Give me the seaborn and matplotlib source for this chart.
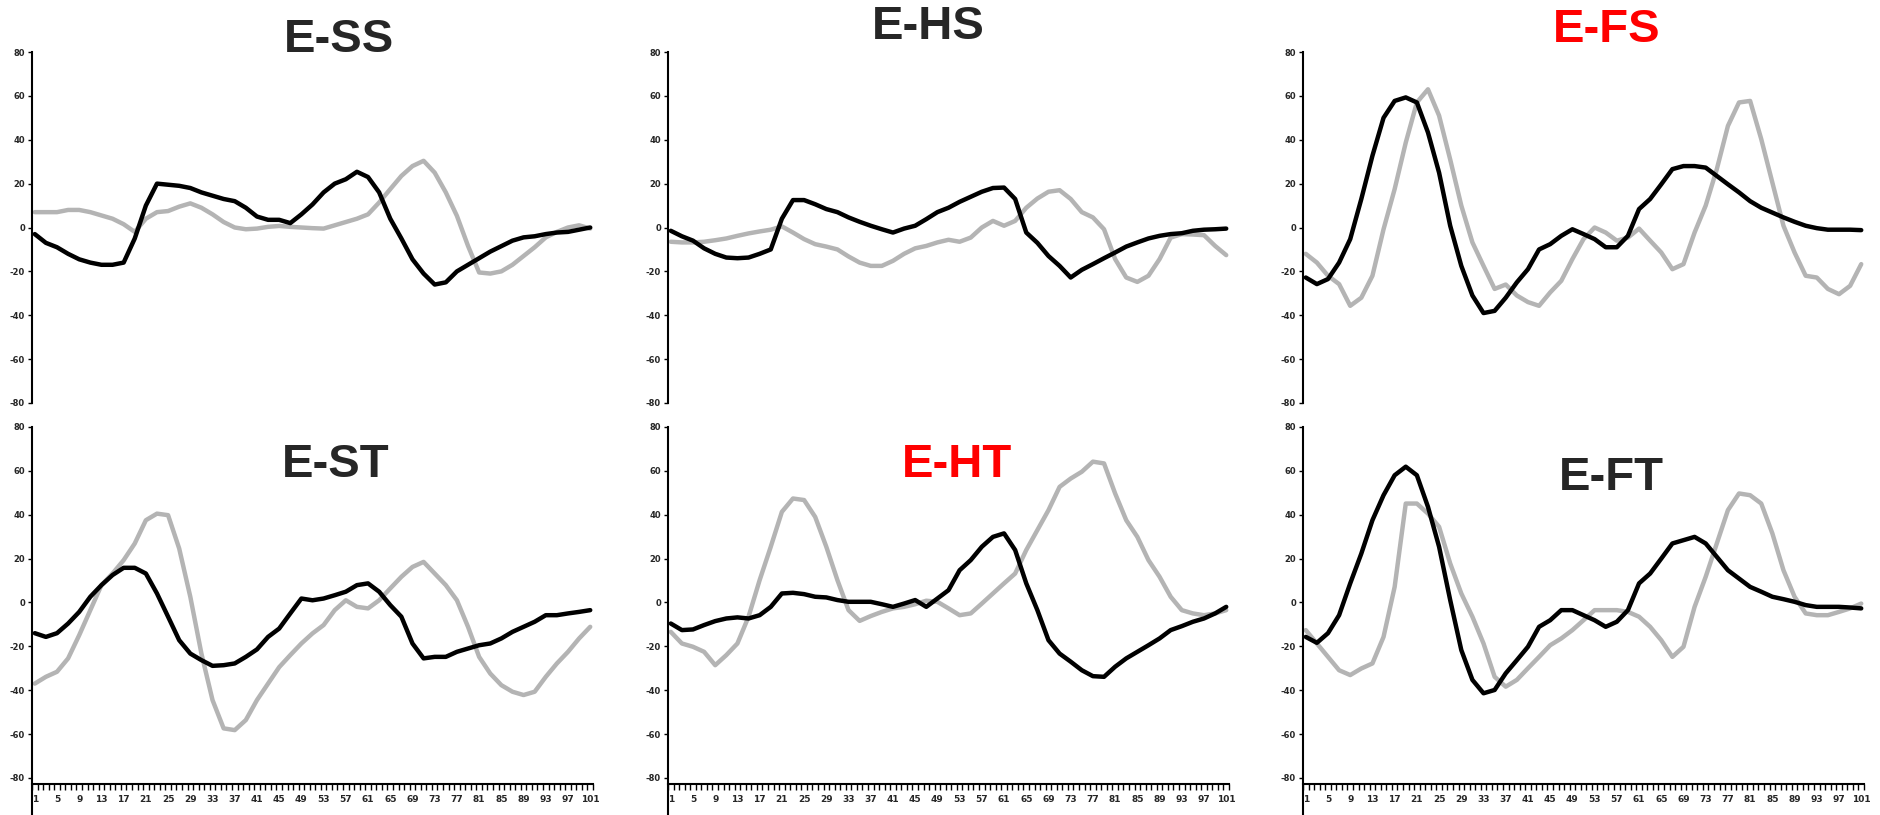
import numpy as np
import pandas as pd
import matplotlib
matplotlib.use("Agg")
import matplotlib.pyplot as plt
import seaborn as sns

# x positions read every 2 points (1..101)
pos = list(range(1, 102, 2))

ess_black = [-3, -7, -9, -12, -14.5, -16, -17, -17, -16, -5, 10, 20, 19.5, 19, 18, 16, 14.5, 13, 12, 9,
             5, 3.5, 3.5, 2, 6, 10.5, 16, 20, 22, 25.4, 23, 16, 4, -5, -14.5, -21, -26, -25, -20, -17,
             -14, -11, -8.5, -6, -4.5, -4, -3, -2.3, -2, -1, 0]
ess_gray = [7, 7, 7, 8, 8, 7, 5.5, 4, 1.5, -2, 4, 7, 7.5, 9.5, 11, 9, 6, 2.5, 0, -0.8,
            -0.5, 0.3, 0.7, 0.3, 0, -0.3, -0.5, 1, 2.5, 4, 6, 11.4, 17.5, 23.5, 28, 30.4, 25, 16, 5.3, -8.4,
            -20.5, -21, -20, -17, -13, -9, -4.5, -2, 0, 1, -0.5]

ehs_black = [-1.5, -4, -6, -9.5, -12, -13.7, -14, -13.7, -12, -10, 4, 12.5, 12.5, 10.6, 8.4, 7, 4.6, 2.6, 0.8, -0.8,
             -2.3, -0.5, 0.8, 3.8, 7, 9, 11.7, 14, 16.3, 18, 18.2, 13, -2.3, -7, -13, -17.5, -22.8, -19.3, -16.7, -14,
             -11.4, -8.7, -6.8, -5, -3.8, -3, -2.6, -1.5, -1, -0.8, -0.5]
ehs_gray = [-6.5, -6.8, -6.8, -6.5, -5.8, -5, -3.8, -2.7, -1.8, -1, 0.5, -2.3, -5.3, -7.6, -8.7, -10, -13.2, -16, -17.5, -17.5,
            -15.2, -12, -9.5, -8.4, -6.8, -5.6, -6.5, -4.6, 0, 3, 0.8, 3, 9, 13.2, 16.3, 17, 13, 7, 4.6, -0.8,
            -14.4, -22.8, -24.8, -22, -14.4, -4.6, -3, -3.2, -3.5, -8.4, -12.6]

efs_black = [-22.8, -25.8, -23.5, -16, -5.3, 13, 32.7, 50, 57.7, 59.3, 57, 43.3, 25, 0.8, -17.5, -31, -39, -38, -32, -25,
             -19, -10, -7.6, -3.8, -0.8, -3, -5.3, -9, -9, -3.8, 8.4, 13, 19.7, 26.6, 28, 28, 27.3, 23.5, 19.7, 16,
             12, 9, 6.8, 4.6, 2.6, 0.8, -0.3, -1, -1, -1, -1.2]
efs_gray = [-12, -16, -22, -25.8, -35.7, -32, -22, -0.8, 17.5, 38.7, 57, 63, 51, 31, 10, -6.8, -17.5, -28, -26, -31,
            -34, -35.7, -29.6, -24.3, -14.4, -5.3, 0, -2.3, -6, -4.6, -0.5, -6, -11.4, -19, -16.7, -2.3, 10, 26.6, 46.3, 57,
            57.7, 40.3, 20.5, 0.8, -11.4, -22, -22.8, -28, -30.4, -26.6, -16.7]

est_black = [-14, -15.7, -14, -9.6, -4.3, 2.6, 7.9, 12.5, 15.8, 15.8, 13.2, 4.1, -6.5, -17.2, -23.3, -26.3, -28.9, -28.6, -27.8, -24.8,
             -21.4, -15.7, -11.9, -5, 1.8, 1, 1.8, 3.3, 4.9, 7.9, 8.7, 4.9, -1.2, -6.5, -18.7, -25.5, -24.8, -24.8, -22.5, -21,
             -19.5, -18.7, -16.4, -13.4, -11.1, -8.8, -5.8, -5.8, -5, -4.3, -3.5]
est_gray = [-37, -33.9, -31.6, -25.5, -14.9, -3.5, 7.9, 13.2, 19.3, 26.9, 37.5, 40.5, 39.8, 24.6, 2.6, -23.3, -44.5, -57.4, -58.2, -53.6,
            -44.5, -37, -29.5, -24, -18.7, -14.1, -10.3, -3.5, 1, -2, -2.7, 1, 6.4, 11.7, 16.2, 18.5, 13.2, 7.9, 1, -11.1,
            -24.8, -32.4, -37.7, -40.7, -42.2, -40.7, -33.9, -27.8, -22.5, -16.4, -11.1]

eht_black = [-9.6, -12.6, -12.3, -10.3, -8.5, -7.3, -6.8, -7.3, -5.8, -2, 4.1, 4.4, 3.8, 2.6, 2.3, 1.1, 0.3, 0.3, 0.3, -0.8,
             -2, -0.5, 1.1, -2, 1.8, 5.6, 14.7, 19.3, 25.4, 29.9, 31.5, 23.9, 8.7, -3.5, -17.2, -23.3, -27, -30.9, -33.6, -33.9,
             -29.3, -25.5, -22.5, -19.5, -16.4, -12.6, -10.8, -8.8, -7.3, -5, -2]
eht_gray = [-13.4, -18.7, -20.2, -22.5, -28.6, -24, -18.7, -6.5, 10.2, 25.4, 41.3, 47.4, 46.7, 39, 25.4, 10.2, -3.5, -8.4, -6.2, -4.3,
            -2.7, -2, -0.8, 0.8, 0.3, -2.7, -5.8, -5, -0.5, 4.1, 8.7, 13.2, 23.9, 33, 42.1, 52.7, 56.5, 59.6, 64.2, 63.4,
            49.7, 37.5, 29.9, 19.3, 11.7, 2.6, -3.5, -5, -5.8, -5, -3.5]

eft_black = [-15.7, -18.4, -14, -5.8, 8.7, 22.3, 37.5, 48.9, 58, 61.9, 58, 43.6, 25.4, 1.1, -21.7, -35.3, -41.4, -39.9, -32.3, -26.3,
             -20.2, -11.1, -8.1, -3.5, -3.5, -5.8, -8.1, -11.1, -8.8, -3.5, 8.7, 13.2, 20, 26.9, 28.4, 29.9, 26.9, 20.8, 14.7, 10.9,
             7.1, 4.9, 2.6, 1.5, 0.3, -1.2, -2, -2, -2, -2.3, -2.7]
eft_gray = [-12.6, -18.7, -24.8, -30.9, -33.1, -30.1, -27.8, -15.7, 7.1, 45.1, 45.1, 40.5, 34.5, 17.8, 4.1, -6.5, -18.7, -33.9, -38.4, -35.3,
            -30, -24.8, -19.5, -16.4, -12.6, -8.1, -3.5, -3.5, -3.5, -4.3, -6.5, -11.1, -17.2, -24.8, -20.2, -2, 11.7, 26.9, 42.1, 49.7,
            48.9, 45.1, 31.5, 14.7, 2.6, -5, -5.8, -5.8, -4.3, -2.7, -0.5]

titles = ["E-SS", "E-HS", "E-FS", "E-ST", "E-HT", "E-FT"]
title_colors = ["#262626", "#262626", "#ff0000", "#262626", "#ff0000", "#262626"]
black_series = [ess_black, ehs_black, efs_black, est_black, eht_black, eft_black]
gray_series = [ess_gray, ehs_gray, efs_gray, est_gray, eht_gray, eft_gray]

y_ticks = [-80, -60, -40, -20, 0, 20, 40, 60, 80]
x_labels = list(range(1, 102, 4))

sns.set_style("white")
plt.rcParams["font.family"] = ["DejaVu Sans"]

W, H = 1881, 815
fig = plt.figure(figsize=(W / 100, H / 100), dpi=100)

col_left = [32, 668, 1303]
ax_w = 561
# title centre x and baseline y, in pixels
title_xy = [(339, 52), (928, 39), (1607, 42), (336, 477), (957, 477), (1611, 490)]

for i in range(6):
    r, c = divmod(i, 3)
    left = col_left[c] / W
    if r == 0:
        ax = fig.add_axes([left, (H - 403) / H, ax_w / W, 351 / H])
        ax.set_ylim(-80, 80)
    else:
        ax = fig.add_axes([left, 0, ax_w / W, 388 / H])
        ax.set_ylim(-96.9, 80)
    ax.set_xlim(0.5, 101.5)
    ax.set_facecolor("white")

    df = pd.DataFrame({"x": pos, "black": black_series[i], "gray": gray_series[i]})
    sns.lineplot(data=df, x="x", y="gray", ax=ax, color="#b4b4b4", lw=3.2, clip_on=False)
    sns.lineplot(data=df, x="x", y="black", ax=ax, color="black", lw=3.2, clip_on=False)

    for s in ["top", "right"]:
        ax.spines[s].set_visible(False)
    ax.spines["left"].set_color("black")
    ax.spines["left"].set_linewidth(1.5)
    ax.set_yticks(y_ticks)
    ax.set_yticklabels([str(v) for v in y_ticks], fontsize=6, fontweight="bold")
    ax.tick_params(axis="y", left=True, length=3, width=1, pad=2, color="black")
    ax.set_xlabel("")
    ax.set_ylabel("")

    if r == 0:
        ax.spines["bottom"].set_visible(False)
        ax.set_xticks([])
    else:
        ax.spines["bottom"].set_position(("data", -82.7))
        ax.spines["bottom"].set_color("black")
        ax.spines["bottom"].set_linewidth(1.5)
        ax.set_xticks(x_labels)
        ax.set_xticklabels([str(v) for v in x_labels], fontsize=6.5, fontweight="bold")
        ax.set_xticks(np.arange(0.5, 102, 1.0), minor=True)
        ax.tick_params(axis="x", which="major", bottom=True, length=0, pad=8)
        ax.tick_params(axis="x", which="minor", bottom=True, length=4, width=1, color="black")

    tx, ty = title_xy[i]
    fig.text(tx / W, 1 - ty / H, titles[i], ha="center", va="baseline",
             fontsize=34, fontweight="bold", family="Liberation Sans", color=title_colors[i])

fig.savefig("out.png", dpi=100, facecolor="white")
